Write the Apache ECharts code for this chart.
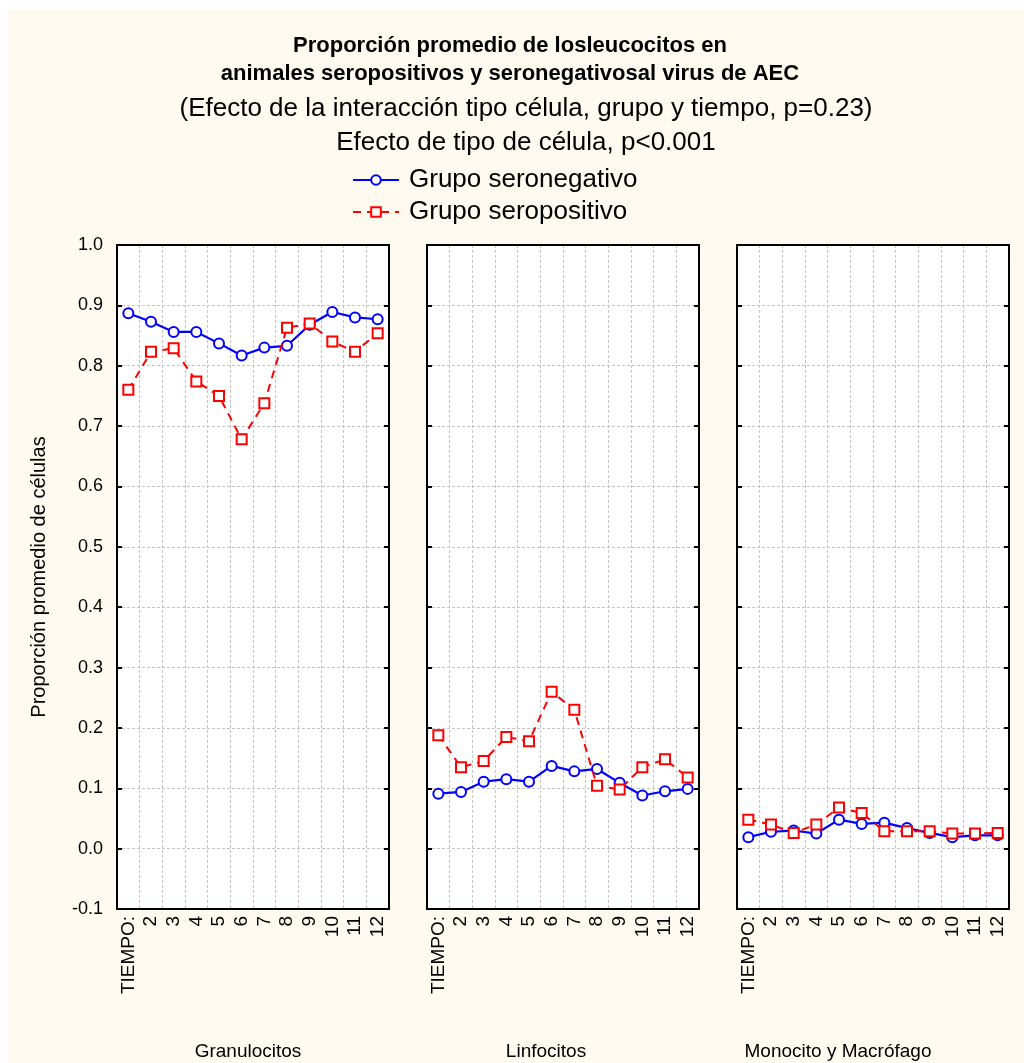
<!DOCTYPE html>
<html><head><meta charset="utf-8">
<script src="https://cdn.jsdelivr.net/npm/echarts@6/dist/echarts.min.js"></script>
<style>html,body{margin:0;padding:0;background:#fff}#c{width:1024px;height:1063px}</style>
</head><body><div id="c"></div>
<script>
const timeLabels = ['TIEMPO:', '2', '3', '4', '5', '6', '7', '8', '9', '10', '11', '12'];
const panelNames = ['Granulocitos', 'Linfocitos', 'Monocito y Macrófago'];
const yTicks = { min: -0.1, max: 1.0, interval: 0.1 };

const granSeroneg = [0.887, 0.873, 0.856, 0.856, 0.837, 0.817, 0.830, 0.833, 0.868, 0.889, 0.880, 0.877];
const granSeropos = [0.760, 0.823, 0.829, 0.774, 0.750, 0.678, 0.738, 0.863, 0.870, 0.840, 0.823, 0.854];
const linfSeroneg = [0.091, 0.094, 0.111, 0.115, 0.111, 0.137, 0.128, 0.132, 0.109, 0.088, 0.095, 0.099];
const linfSeropos = [0.188, 0.135, 0.145, 0.185, 0.178, 0.260, 0.230, 0.104, 0.098, 0.135, 0.148, 0.118];
const monoSeroneg = [0.019, 0.028, 0.030, 0.025, 0.048, 0.041, 0.043, 0.034, 0.026, 0.019, 0.022, 0.022];
const monoSeropos = [0.048, 0.040, 0.026, 0.040, 0.068, 0.059, 0.029, 0.029, 0.029, 0.025, 0.025, 0.026];

const negName = 'Grupo seronegativo';
const posName = 'Grupo seropositivo';
const panels = [[granSeroneg, granSeropos], [linfSeroneg, linfSeropos], [monoSeroneg, monoSeropos]];

const FONT = 'Liberation Sans, Arial, sans-serif';
const lefts = [117, 427, 737];
const grids = lefts.map(l => ({ left: l, top: 245, width: 272, height: 664, show: true, backgroundColor: '#ffffff', borderColor: '#000', borderWidth: 2, containLabel: false }));

const xAxes = [], yAxes = [], series = [];
lefts.forEach((l, i) => {
  xAxes.push({
    type: 'category', gridIndex: i, data: timeLabels, position: 'bottom', boundaryGap: true,
    axisLine: { onZero: false, lineStyle: { color: '#000', width: 2 } },
    axisTick: { inside: true, alignWithLabel: true, length: 5, lineStyle: { color: '#000', width: 2 } },
    axisLabel: { rotate: 90, interval: 0, margin: 7, color: '#000', fontSize: 19, fontFamily: FONT },
    splitLine: { show: true, interval: 0, lineStyle: { color: '#c4c4c4', type: [3, 2], width: 1 } }
  });
  xAxes.push({
    type: 'category', gridIndex: i, data: timeLabels, position: 'top', boundaryGap: true,
    axisLine: { onZero: false, lineStyle: { color: '#000', width: 2 } },
    axisTick: { inside: true, alignWithLabel: true, length: 5, lineStyle: { color: '#000', width: 2 } },
    axisLabel: { show: false }, splitLine: { show: false }
  });
  yAxes.push({
    type: 'value', gridIndex: i, min: yTicks.min, max: yTicks.max, interval: yTicks.interval, position: 'left',
    axisLine: { show: true, onZero: false, lineStyle: { color: '#000', width: 2 } },
    axisTick: { show: true, inside: true, length: 5, lineStyle: { color: '#000', width: 2 } },
    axisLabel: { show: i === 0, color: '#000', fontSize: 18, fontFamily: FONT, margin: 14, formatter: v => v.toFixed(1) },
    splitLine: { show: true, lineStyle: { color: '#c4c4c4', type: [3, 2], width: 1 } },
    name: i === 0 ? 'Proporción promedio de células' : '', nameLocation: 'middle', nameGap: 68, nameRotate: 90,
    nameTextStyle: { color: '#000', fontSize: 20, fontFamily: FONT }
  });
  yAxes.push({
    type: 'value', gridIndex: i, min: yTicks.min, max: yTicks.max, interval: yTicks.interval, position: 'right',
    axisLine: { show: true, onZero: false, lineStyle: { color: '#000', width: 2 } },
    axisTick: { show: true, inside: true, length: 5, lineStyle: { color: '#000', width: 2 } },
    axisLabel: { show: false }, splitLine: { show: false }
  });
  const [neg, pos] = panels[i];
  series.push({
    name: negName, type: 'line', xAxisIndex: i * 2, yAxisIndex: i * 2, data: neg,
    symbol: 'circle', symbolSize: 10, z: 3,
    lineStyle: { color: '#0000ff', width: 2.2 },
    itemStyle: { color: '#ffffff', borderColor: '#0000ff', borderWidth: 2 }
  });
  series.push({
    name: posName, type: 'line', xAxisIndex: i * 2, yAxisIndex: i * 2, data: pos,
    symbol: 'rect', symbolSize: 10, z: 4,
    lineStyle: { color: '#ff0000', width: 2, type: [8, 6] },
    itemStyle: { color: '#ffffff', borderColor: '#ff0000', borderWidth: 2 }
  });
});

const panelCenters = [248, 546, 838];
const option = {
  backgroundColor: '#ffffff',
  animation: false,
  title: [
    { text: 'Proporción promedio de losleucocitos en\nanimales seropositivos y seronegativosal virus de AEC', left: 505, top: 27, textAlign: 'center',
      textStyle: { fontSize: 22, fontWeight: 'bold', color: '#000', fontFamily: FONT, lineHeight: 28 } },
    { text: '(Efecto de la interacción tipo célula, grupo y tiempo, p=0.23)\nEfecto de tipo de célula, p<0.001', left: 521, top: 87, textAlign: 'center',
      textStyle: { fontSize: 26, fontWeight: 'normal', color: '#000', fontFamily: FONT, lineHeight: 34 } }
  ],
  legend: {
    orient: 'vertical', left: 347, top: 162, itemWidth: 46, itemHeight: 12, itemGap: 6,
    data: [negName, posName],
    textStyle: { fontSize: 26, color: '#000', fontFamily: FONT, padding: [0, 0, 0, 5] }
  },
  graphic: [
    { type: 'rect', z: -10, silent: true, shape: { x: 7, y: 10, width: 1017, height: 1053 }, style: { fill: '#fefaef' } },
    ...panelNames.map((n, i) => ({ type: 'text', z: 10,
      style: { x: panelCenters[i], y: 1052, text: n, fill: '#000', fontSize: 19, fontFamily: FONT, textAlign: 'center', textVerticalAlign: 'middle' } }))
  ],
  grid: grids, xAxis: xAxes, yAxis: yAxes, series: series
};
const chart = echarts.init(document.getElementById('c'), null, { renderer: 'canvas' });
chart.setOption(option);
</script></body></html>
